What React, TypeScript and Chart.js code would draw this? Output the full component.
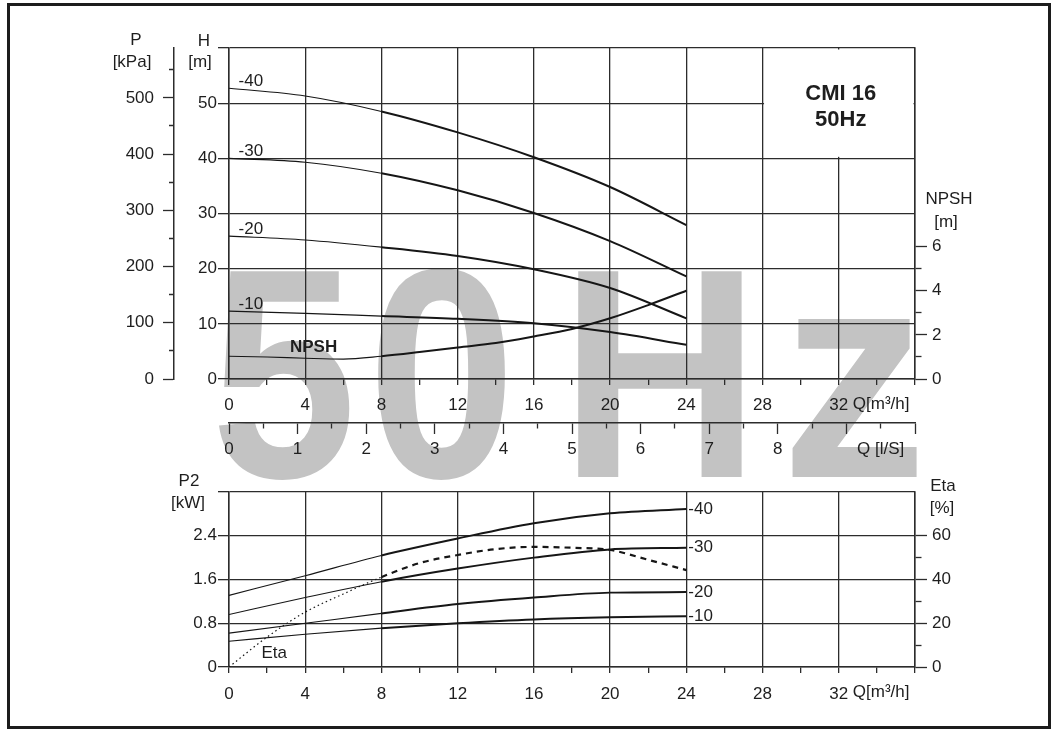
import React, { useEffect, useRef } from 'react';
import { Chart, registerables } from 'chart.js';

Chart.register(...registerables);

// ---------- data ----------
const FLOW = [0, 4, 8, 12, 16, 20, 24];
const HEAD_40 = [52.7, 51.3, 48.5, 44.7, 40.2, 34.8, 27.9];
const HEAD_30 = [40.0, 39.3, 37.3, 34.2, 30.1, 25.0, 18.6];
const HEAD_20 = [25.9, 25.2, 23.9, 22.3, 19.9, 16.5, 11.0];
const HEAD_10 = [12.3, 11.9, 11.4, 10.9, 10.1, 8.5, 6.2];

const NPSH_FLOW = [0, 2, 4, 6, 8, 10, 12, 14, 16, 18, 20, 22, 24];
const NPSH_M = [1.03, 1.0, 0.94, 0.9, 1.03, 1.22, 1.43, 1.63, 1.93, 2.27, 2.75, 3.35, 4.0];

const P2_40 = [1.31, 1.67, 2.04, 2.35, 2.63, 2.81, 2.89];
const P2_30 = [0.96, 1.27, 1.56, 1.8, 2.0, 2.15, 2.18];
const P2_20 = [0.62, 0.8, 0.98, 1.15, 1.27, 1.36, 1.37];
const P2_10 = [0.47, 0.6, 0.71, 0.8, 0.87, 0.91, 0.93];

const ETA_FLOW = [0, 2, 4, 6, 8, 10, 12, 14, 16, 18, 20, 22, 24];
const ETA_PCT = [0, 13.7, 25.1, 33.4, 41.1, 47.5, 51.2, 53.9, 54.9, 54.5, 53.5, 49, 44.3];

const STAGES = ['-40', '-30', '-20', '-10'];
const Q_LABELS = [0, 4, 8, 12, 16, 20, 24, 28, 32];
const QLS_LABELS = [0, 1, 2, 3, 4, 5, 6, 7, 8];
const H_LABELS = [0, 10, 20, 30, 40, 50];
const P_LABELS = [0, 100, 200, 300, 400, 500];
const NPSH_LABELS = [0, 2, 4, 6];
const P2_LABELS = ['0', '0.8', '1.6', '2.4'];
const ETA_LABELS = [0, 20, 40, 60];
const Q_UNIT = 'Q[m³/h]';
const QLS_UNIT = 'Q [l/S]';
const MODEL = 'CMI 16';
const FREQ = '50Hz';

// ---------- style ----------
const GRID = '#2c2c2c';
const INK = '#161616';
const TXT = '#1e1e1e';
const CLEAR = 'rgba(0,0,0,0)';
const FAM = "'Liberation Sans', Arial, sans-serif";
const TICK_FONT = { family: FAM, size: 17 };

Chart.defaults.font.family = FAM;
Chart.defaults.color = TXT;

const pts = (xs: number[], ys: number[]) => xs.map((x, i) => ({ x, y: ys[i] }));

const curve = (data: any, yAxisID: string) => ({
  data,
  yAxisID,
  xAxisID: 'x',
  borderColor: INK,
  borderWidth: 2,
  pointRadius: 0,
  fill: false,
  cubicInterpolationMode: 'monotone',
  segment: { borderWidth: (c: any) => (c.p0.parsed.x < 8 ? 1.1 : 2) },
});

const qAxis = (pad: number, h: number) => ({
  type: 'linear',
  position: 'bottom',
  weight: 0,
  min: 0,
  max: 36,
  ticks: {
    stepSize: 2,
    autoSkip: false,
    maxRotation: 0,
    font: TICK_FONT,
    color: TXT,
    padding: pad,
    callback: (v: number) => (Q_LABELS.includes(v) ? String(v) : ''),
  },
  grid: {
    color: (c: any) => (c.tick && c.tick.value % 4 === 0 ? GRID : CLEAR),
    lineWidth: 1.3,
    tickLength: 6,
    tickColor: GRID,
    tickWidth: 1.3,
  },
  border: { display: true, color: GRID, width: 1.5 },
  afterFit: (s: any) => {
    s.height = h;
  },
});

function text(ctx: any, s: string, x: number, y: number, font: string, align = 'center') {
  ctx.font = font;
  ctx.textAlign = align;
  ctx.textBaseline = 'middle';
  ctx.fillStyle = TXT;
  ctx.fillText(s, x, y);
}

const NORMAL = `17px ${FAM}`;
const BOLD = `bold 17px ${FAM}`;

// unit label drawn after the last Q tick label, on the same line
function qUnit(chart: any) {
  const xs = chart.scales.x;
  const ctx = chart.ctx;
  const items = xs._labelItems || [];
  let y = xs.top + 25;
  if (items.length) {
    // same vertical place as the tick labels
    y = xs.top + 25;
  }
  text(ctx, Q_UNIT, xs.getPixelForValue(32) + 14, y, NORMAL, 'left');
}

// watermark glyph layout: char, ink-left, ink-width
const WATERMARK: [string, number, number][] = [
  ['5', 215, 135],
  ['0', 376, 129],
  ['H', 577, 165],
  ['z', 790, 128],
];

const topDecor = {
  id: 'topDecor',
  beforeDraw(chart: any) {
    const ctx = chart.ctx;
    ctx.save();
    ctx.fillStyle = '#c3c3c3';
    ctx.font = `bold 299px ${FAM}`;
    ctx.textAlign = 'left';
    ctx.textBaseline = 'alphabetic';
    WATERMARK.forEach(([ch, left, w]) => {
      const m = ctx.measureText(ch);
      const ink = m.actualBoundingBoxLeft + m.actualBoundingBoxRight;
      ctx.save();
      ctx.translate(left, 477);
      ctx.scale(w / ink, 1);
      ctx.fillText(ch, m.actualBoundingBoxLeft, 0);
      ctx.restore();
    });
    ctx.restore();
  },
  beforeDatasetsDraw(chart: any) {
    const ctx = chart.ctx;
    const xs = chart.scales.x;
    const hs = chart.scales.h;
    const l = xs.getPixelForValue(28);
    const r = xs.getPixelForValue(36);
    const t = hs.getPixelForValue(60);
    const b = hs.getPixelForValue(40);
    ctx.save();
    ctx.fillStyle = '#ffffff';
    ctx.fillRect(l + 1.5, t + 1.5, r - l - 3, b - t - 3);
    text(ctx, MODEL, (l + r) / 2 + 2, t + 46, `bold 22px ${FAM}`);
    text(ctx, FREQ, (l + r) / 2 + 2, t + 72, `bold 22px ${FAM}`);
    ctx.restore();
  },
  afterDatasetsDraw(chart: any) {
    const ctx = chart.ctx;
    const xs = chart.scales.x;
    const hs = chart.scales.h;
    ctx.save();
    const heads = [HEAD_40, HEAD_30, HEAD_20, HEAD_10];
    STAGES.forEach((s, i) => {
      text(ctx, s, xs.getPixelForValue(0.5), hs.getPixelForValue(heads[i][0]) - 7, NORMAL, 'left');
    });
    text(ctx, 'NPSH', xs.getPixelForValue(3.2), hs.getPixelForValue(5.8), BOLD, 'left');
    text(ctx, 'P', 136, 40, NORMAL);
    text(ctx, '[kPa]', 132, 62, NORMAL);
    text(ctx, 'H', 204, 41, NORMAL);
    text(ctx, '[m]', 200, 62, NORMAL);
    text(ctx, 'NPSH', 949, 199, NORMAL);
    text(ctx, '[m]', 946, 222, NORMAL);
    qUnit(chart);
    ctx.restore();
  },
};

const botDecor = {
  id: 'botDecor',
  afterDatasetsDraw(chart: any) {
    const ctx = chart.ctx;
    const xs = chart.scales.x;
    const ps = chart.scales.p2;
    const es = chart.scales.eta;
    ctx.save();
    const powers = [P2_40, P2_30, P2_20, P2_10];
    STAGES.forEach((s, i) => {
      const arr = powers[i];
      text(ctx, s, xs.getPixelForValue(24) + 2, ps.getPixelForValue(arr[arr.length - 1]), NORMAL, 'left');
    });
    text(ctx, 'Eta', xs.getPixelForValue(1.7), es.getPixelForValue(6.4), NORMAL, 'left');
    text(ctx, 'P2', 189, 11, NORMAL);
    text(ctx, '[kW]', 188, 33, NORMAL);
    text(ctx, 'Eta', 943, 16, NORMAL);
    text(ctx, '[%]', 942, 38, NORMAL);
    qUnit(chart);
    ctx.restore();
  },
};

function topConfig(): any {
  return {
    type: 'line',
    data: {
      datasets: [
        curve(pts(FLOW, HEAD_40), 'h'),
        curve(pts(FLOW, HEAD_30), 'h'),
        curve(pts(FLOW, HEAD_20), 'h'),
        curve(pts(FLOW, HEAD_10), 'h'),
        curve(pts(NPSH_FLOW, NPSH_M), 'n'),
      ],
    },
    options: {
      responsive: false,
      animation: false,
      layout: { padding: { left: 0, right: 0, top: 48, bottom: 0 } },
      plugins: { legend: { display: false }, tooltip: { enabled: false } },
      scales: {
        x: qAxis(10, 44),
        xls: {
          type: 'linear',
          position: 'bottom',
          weight: 1,
          min: 0,
          max: 10,
          ticks: {
            stepSize: 0.5,
            autoSkip: false,
            maxRotation: 0,
            font: TICK_FONT,
            color: TXT,
            padding: 5,
            callback: (v: number) => (QLS_LABELS.includes(v) ? String(v) : v === 9.5 ? QLS_UNIT : ''),
          },
          grid: {
            drawOnChartArea: false,
            tickLength: 11,
            tickColor: GRID,
            tickWidth: 1.3,
            tickBorderDash: (c: any) => (c.tick && Number.isInteger(c.tick.value) ? [] : [5, 100]),
          },
          border: { display: true, color: GRID, width: 1.5 },
          afterFit: (s: any) => {
            s.height = 62;
          },
        },
        h: {
          type: 'linear',
          position: 'left',
          weight: 0,
          min: 0,
          max: 60,
          ticks: {
            stepSize: 10,
            font: TICK_FONT,
            color: TXT,
            padding: 1,
            callback: (v: number) => (H_LABELS.includes(v) ? String(v) : ''),
          },
          grid: { color: GRID, lineWidth: 1.3, tickLength: 11, tickColor: GRID, tickWidth: 1.3 },
          border: { display: true, color: GRID, width: 1.5 },
          afterFit: (s: any) => {
            s.width = 55;
          },
        },
        p: {
          type: 'linear',
          position: 'left',
          weight: 1,
          min: 0,
          max: 60 * 9.81,
          ticks: {
            stepSize: 50,
            includeBounds: false,
            font: TICK_FONT,
            color: TXT,
            padding: 9,
            callback: (v: number) => (P_LABELS.includes(Math.round(v)) ? String(Math.round(v)) : ''),
          },
          grid: {
            drawOnChartArea: false,
            tickLength: 11,
            tickColor: GRID,
            tickWidth: 1.3,
            tickBorderDash: (c: any) => (c.tick && Math.round(c.tick.value) % 100 === 0 ? [] : [0, 6, 5, 100]),
          },
          border: { display: true, color: GRID, width: 1.5 },
          afterFit: (s: any) => {
            s.width = 174;
          },
        },
        n: {
          type: 'linear',
          position: 'right',
          weight: 0,
          min: 0,
          max: 15,
          afterBuildTicks: (s: any) => {
            s.ticks = s.ticks.filter((t: any) => t.value <= 6);
          },
          ticks: {
            stepSize: 1,
            font: TICK_FONT,
            color: TXT,
            padding: 5,
            callback: (v: number) => (NPSH_LABELS.includes(v) ? String(v) : ''),
          },
          grid: {
            drawOnChartArea: false,
            tickLength: 12,
            tickColor: GRID,
            tickWidth: 1.3,
            tickBorderDash: (c: any) => (c.tick && c.tick.value % 2 === 0 ? [] : [6, 100]),
          },
          border: { display: true, color: GRID, width: 1.5 },
          afterFit: (s: any) => {
            s.width = 144;
          },
        },
      },
    },
    plugins: [topDecor],
  };
}

function botConfig(): any {
  const etaDs: any = {
    data: pts(ETA_FLOW, ETA_PCT),
    yAxisID: 'eta',
    xAxisID: 'x',
    borderColor: INK,
    borderWidth: 2,
    pointRadius: 0,
    fill: false,
    cubicInterpolationMode: 'monotone',
    segment: {
      borderWidth: (c: any) => (c.p0.parsed.x < 8 ? 1.2 : 2.2),
      borderDash: (c: any) => (c.p0.parsed.x < 8 ? [1.5, 3] : [6, 5]),
    },
  };
  return {
    type: 'line',
    data: {
      datasets: [
        curve(pts(FLOW, P2_40), 'p2'),
        curve(pts(FLOW, P2_30), 'p2'),
        curve(pts(FLOW, P2_20), 'p2'),
        curve(pts(FLOW, P2_10), 'p2'),
        etaDs,
      ],
    },
    options: {
      responsive: false,
      animation: false,
      layout: { padding: { left: 0, right: 0, top: 22, bottom: 0 } },
      plugins: { legend: { display: false }, tooltip: { enabled: false } },
      scales: {
        x: qAxis(11, 63),
        p2: {
          type: 'linear',
          position: 'left',
          min: 0,
          max: 3.2,
          ticks: {
            stepSize: 0.4,
            font: TICK_FONT,
            color: TXT,
            padding: 1,
            callback: (v: number) => {
              const k = Math.round(v * 10);
              if (k % 8 !== 0 || k >= 32) return '';
              return P2_LABELS[k / 8];
            },
          },
          grid: {
            color: (c: any) => (c.tick && Math.round(c.tick.value * 10) % 8 === 0 ? GRID : CLEAR),
            lineWidth: 1.3,
            tickLength: 11,
            tickColor: GRID,
            tickWidth: 1.3,
            tickBorderDash: (c: any) => (c.tick && Math.round(c.tick.value * 10) % 8 === 0 ? [] : [0, 5, 6, 100]),
          },
          border: { display: true, color: GRID, width: 1.5 },
          afterFit: (s: any) => {
            s.width = 229;
          },
        },
        eta: {
          type: 'linear',
          position: 'right',
          min: 0,
          max: 80,
          afterBuildTicks: (s: any) => {
            s.ticks = s.ticks.filter((t: any) => t.value <= 60);
          },
          ticks: {
            stepSize: 10,
            font: TICK_FONT,
            color: TXT,
            padding: 5,
            callback: (v: number) => (ETA_LABELS.includes(v) ? String(v) : ''),
          },
          grid: {
            drawOnChartArea: false,
            tickLength: 12,
            tickColor: GRID,
            tickWidth: 1.3,
            tickBorderDash: (c: any) => (c.tick && c.tick.value % 20 === 0 ? [] : [6, 100]),
          },
          border: { display: true, color: GRID, width: 1.5 },
          afterFit: (s: any) => {
            s.width = 144;
          },
        },
      },
    },
    plugins: [botDecor],
  };
}

export default function App() {
  const topRef = useRef<HTMLCanvasElement>(null);
  const botRef = useRef<HTMLCanvasElement>(null);
  useEffect(() => {
    const top = new Chart(topRef.current as HTMLCanvasElement, topConfig());
    const bot = new Chart(botRef.current as HTMLCanvasElement, botConfig());
    return () => {
      top.destroy();
      bot.destroy();
    };
  }, []);
  return (
    <div style={{ position: 'absolute', left: 0, top: 0, width: 1059, height: 730, background: '#fff', overflow: 'hidden' }}>
      <canvas
        ref={topRef}
        width={1059}
        height={485}
        style={{ position: 'absolute', left: 0, top: 0, width: 1059, height: 485, display: 'block' }}
      />
      <canvas
        ref={botRef}
        width={1059}
        height={260}
        style={{ position: 'absolute', left: 0, top: 470, width: 1059, height: 260, display: 'block' }}
      />
      <div
        style={{
          position: 'absolute',
          left: 7,
          top: 3,
          width: 1044,
          height: 726,
          border: '3px solid #1c1c1c',
          boxSizing: 'border-box',
          pointerEvents: 'none',
        }}
      />
    </div>
  );
}
